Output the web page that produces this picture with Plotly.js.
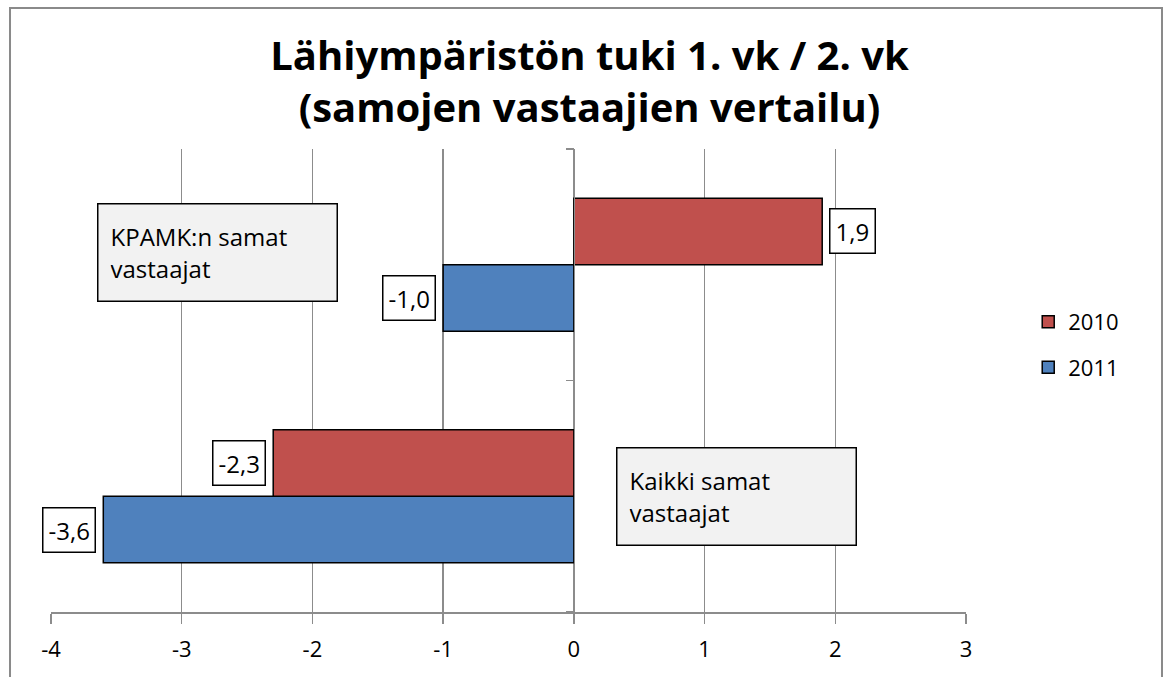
<!DOCTYPE html>
<html>
<head>
<meta charset="utf-8">
<script src="https://cdn.plot.ly/plotly-3.0.1.min.js"></script>
<style>html,body{margin:0;padding:0;background:#fff;}#chart{width:1165px;height:677px;}</style>
</head>
<body>
<div id="chart"></div>
<script>
// Data (top-level named arrays)
const categories = ['Kaikki samat vastaajat', 'KPAMK:n samat vastaajat'];
const categoryLabels = ['Kaikki samat<br>vastaajat', 'KPAMK:n samat<br>vastaajat'];
const seriesNames = ['2010', '2011'];
const values2010 = [-2.3, 1.9];
const values2011 = [-3.6, -1.0];
const xTickVals = [-4, -3, -2, -1, 0, 1, 2, 3];
const titleText = 'Lähiympäristön tuki 1. vk / 2. vk<br>(samojen vastaajien vertailu)';

const FONT = '"Open Sans", "Liberation Sans", sans-serif';
const RED = '#C0504D', BLUE = '#4F81BD', GRID = '#8c8c8c';
const BARGAP = 0.425;

const fmt = v => v.toFixed(1).replace('.', ',');

const traces = [
  {type: 'bar', orientation: 'h', name: seriesNames[1], legendgroup: 'g2011', legendrank: 2,
   y: categories, x: values2011,
   marker: {color: BLUE, line: {color: '#000', width: 1.5}}, hoverinfo: 'x'},
  {type: 'bar', orientation: 'h', name: seriesNames[0], legendgroup: 'g2010', legendrank: 1,
   y: categories, x: values2010,
   marker: {color: RED, line: {color: '#000', width: 1.5}}, hoverinfo: 'x'}
];

// value labels in boxes, placed at bar ends
const off = (1 - BARGAP) / 4;
const annotations = [];
function addLabels(vals, sign) {
  vals.forEach((v, i) => {
    annotations.push({
      x: v, y: i + sign * off, xref: 'x', yref: 'y', text: fmt(v), showarrow: false,
      xanchor: v >= 0 ? 'left' : 'right', xshift: v >= 0 ? 7 : -7,
      font: {family: FONT, size: 24, color: '#000'},
      bgcolor: '#fff', bordercolor: '#000', borderwidth: 1.5, borderpad: 5
    });
  });
}
addLabels(values2010, 1);
addLabels(values2011, -1);

// category label boxes
const catBoxX = [0.32, -3.65];
const catBoxShift = [0, 12];
categories.forEach((c, i) => {
  annotations.push({
    x: catBoxX[i], y: c, xref: 'x', yref: 'y', yshift: catBoxShift[i],
    text: categoryLabels[i], showarrow: false, xanchor: 'left', align: 'left',
    width: 214, height: 72, valign: 'middle',
    font: {family: FONT, size: 24, color: '#000'},
    bgcolor: '#f2f2f2', bordercolor: '#000', borderwidth: 1.5, borderpad: 12
  });
});

const layout = {
  width: 1165, height: 677,
  margin: {l: 51, r: 199, t: 149, b: 65},
  paper_bgcolor: '#fff', plot_bgcolor: '#fff',
  barmode: 'group', bargap: BARGAP, bargroupgap: 0,
  showlegend: true,
  title: {text: titleText, font: {family: FONT, size: 40, color: '#000', weight: 'bold'},
          x: 0.506, xref: 'container', xanchor: 'center', y: 0.897, yref: 'container', yanchor: 'middle'},
  xaxis: {
    range: [-4, 3], tickvals: xTickVals, ticktext: xTickVals.map(String),
    showgrid: true, gridcolor: GRID, gridwidth: 1.5, zeroline: false,
    showline: true, linecolor: GRID, linewidth: 1.5,
    ticks: 'outside', ticklen: 10, tickcolor: GRID, tickwidth: 1.5, ticklabelstandoff: 7,
    tickfont: {family: FONT, size: 22, color: '#000'}, fixedrange: true
  },
  yaxis: {
    type: 'category', categoryorder: 'array', categoryarray: categories,
    anchor: 'free', position: 4 / 7, showline: true, linecolor: GRID, linewidth: 1.5,
    ticks: 'outside', tickson: 'boundaries', ticklen: 8, tickcolor: GRID, tickwidth: 1.5,
    showticklabels: false, showgrid: false, zeroline: false, fixedrange: true
  },
  legend: {x: 1.068, xanchor: 'left', y: 0.577, yanchor: 'middle', traceorder: 'grouped',
           tracegroupgap: 14,
           font: {family: FONT, size: 22, color: '#000'}, itemwidth: 30,
           bgcolor: 'rgba(0,0,0,0)'},
  annotations: annotations,
  shapes: [{type: 'rect', xref: 'paper', yref: 'paper', x0: -0.0448, x1: 1.2142, y0: -0.3, y1: 1.3045,
            line: {color: '#8a8a8a', width: 2}, layer: 'below'}]
};

Plotly.newPlot('chart', traces, layout, {displayModeBar: false, staticPlot: true});
</script>
</body>
</html>
